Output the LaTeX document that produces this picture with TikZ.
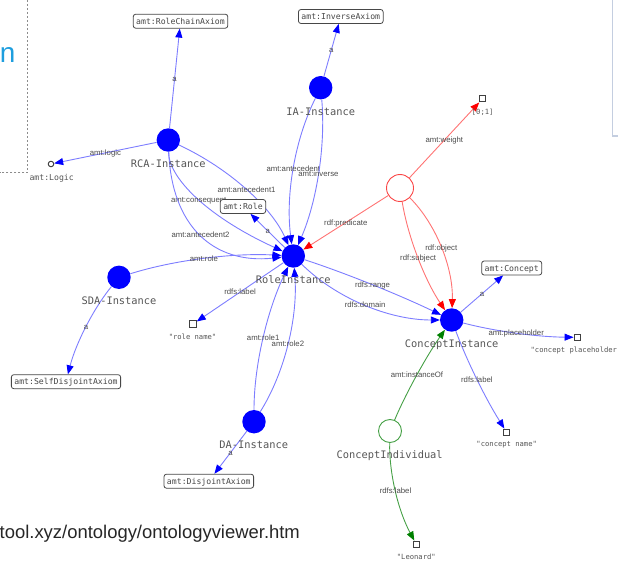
\documentclass[tikz,border=0pt]{standalone}
\usepackage{fontspec}
\setmainfont{Liberation Sans}
\newfontfamily\graphmono{DejaVu Sans Mono}
\usetikzlibrary{arrows.meta}
\pgfdeclarelayer{links}
\pgfsetlayers{links,main}

\definecolor{instblue}{RGB}{0,0,255}
\definecolor{linkblue}{RGB}{125,125,255}
\definecolor{linkred}{RGB}{255,115,115}
\definecolor{tipred}{RGB}{255,0,0}
\definecolor{stmtred}{RGB}{250,70,70}
\definecolor{linkgreen}{RGB}{70,160,70}
\definecolor{tipgreen}{RGB}{0,128,0}
\definecolor{txtgray}{RGB}{85,85,85}
\definecolor{elabgray}{RGB}{75,75,75}
\definecolor{slideblue}{RGB}{30,158,222}
\definecolor{panelblue}{RGB}{196,206,224}

\begin{document}
\begin{tikzpicture}[x=1bp,y=-1bp,
  inst/.style={circle, fill=instblue, minimum size=23.4bp, inner sep=0pt},
  stmt/.style={circle, draw=stmtred, line width=0.9bp, fill=white, minimum size=27bp, inner sep=0pt},
  indiv/.style={circle, draw=linkgreen, line width=0.9bp, fill=white, minimum size=23bp, inner sep=0pt},
  cls/.style={draw=black!72, rounded corners=2.5bp, fill=white, line width=0.8bp,
    font=\graphmono\fontsize{8.2}{9}\selectfont, text=black!72,
    inner xsep=3bp, inner ysep=0pt, text height=6bp, text depth=0pt, minimum height=14bp},
  lit/.style={rectangle, draw=black!75, line width=1bp, fill=white, minimum size=6.5bp, inner sep=0pt},
  litc/.style={circle, draw=black!75, line width=1bp, fill=white, minimum size=5.5bp, inner sep=0pt},
  nlab/.style={font=\graphmono\fontsize{10.4}{12}\selectfont, text=txtgray, inner sep=0pt,
    text height=7.6bp, text depth=0pt},
  llab/.style={font=\graphmono\fontsize{7.2}{9}\selectfont, text=txtgray, inner sep=0pt,
    text height=5.2bp, text depth=0pt},
  clab/.style={font=\graphmono\fontsize{8.2}{9}\selectfont, text=txtgray, inner sep=0pt,
    text height=6bp, text depth=0pt},
  elab/.style={font=\fontsize{7.8}{9}\selectfont, text=elabgray, inner sep=0pt,
    text height=5.6bp, text depth=0pt},
  blink/.style={draw=linkblue, line width=0.9bp, -{Triangle[length=9bp,width=7bp,color=instblue]}},
  rlink/.style={draw=linkred, line width=0.9bp, -{Triangle[length=9bp,width=7bp,color=tipred]}},
  glink/.style={draw=linkgreen, line width=0.9bp, -{Triangle[length=9bp,width=7bp,color=tipgreen]}}
]
\useasboundingbox (0,0) rectangle (618,561);
\clip (0,0) rectangle (618,561);

% slide decorations around the graph
\draw[black!45, line width=0.7bp, dash pattern=on 2bp off 2bp] (27.7,0) -- (27.7,172.7) -- (0,172.7);
\node[anchor=base east, inner sep=0pt, text=slideblue, font=\fontsize{28}{30}\selectfont] (slidetitle) at (15.5,62.7) {on};
\node[anchor=base west, inner sep=0pt, text=black!85, font=\fontsize{18.5}{20}\selectfont] (slideurl) at (-0.5,538.3) {tool.xyz/ontology/ontologyviewer.htm};
\draw[panelblue, line width=1.5bp] (612.7,0) -- (612.7,136) -- (618,136);

% instance nodes
\node[inst] (rca) at (168.3,140) {};
\node[inst] (ia) at (320.7,87.7) {};
\node[inst] (ri) at (293.3,256) {};
\node[inst] (sda) at (119,277.3) {};
\node[inst] (da) at (254,421.7) {};
\node[inst] (ci) at (451.7,320) {};
\node[stmt] (st) at (400,188) {};
\node[indiv] (cind) at (390,431) {};

\node[nlab] (rcaL) at (168.3,163.3) {RCA-Instance};
\node[nlab] (iaL) at (320.7,111.7) {IA-Instance};
\node[nlab] (riL) at (293.3,279.5) {RoleInstance};
\node[nlab] (sdaL) at (119,301) {SDA-Instance};
\node[nlab] (daL) at (253.7,445) {DA-Instance};
\node[nlab] (ciL) at (451.7,343.3) {ConceptInstance};
\node[nlab] (cindL) at (389.7,455) {ConceptIndividual};

% class boxes
\node[cls] (cRCA) at (180.5,21.2) {amt:RoleChainAxiom};
\node[cls] (cIA) at (340.8,16.5) {amt:InverseAxiom};
\node[cls] (cRole) at (243,206.5) {amt:Role};
\node[cls] (cSDA) at (66,381.7) {amt:SelfDisjointAxiom};
\node[cls] (cDA) at (208.8,481.2) {amt:DisjointAxiom};
\node[cls] (cConcept) at (511.7,268) {amt:Concept};

% literal values
\node[litc] (lLogic) at (51,164) {};
\node[lit] (lw) at (482.7,98.7) {};
\node[lit] (lrole) at (193,324) {};
\node[lit] (lph) at (577.3,337.3) {};
\node[lit] (lcn) at (506.7,432.3) {};
\node[lit] (lleo) at (416.3,544.3) {};

\node[clab] (lLogicL) at (51.7,177.3) {amt:Logic};
\node[llab] (lwL) at (482.7,111.7) {[0;1]};
\node[llab] (lroleL) at (192.5,336.7) {"role name"};
\node[llab] (lphL) at (576,350) {"concept placeholder"};
\node[llab] (lcnL) at (506.7,444.3) {"concept name"};
\node[llab] (lleoL) at (416.3,556.7) {"Leonard"};

% links
\begin{pgfonlayer}{links}
\draw[blink] (rca) -- node[elab] {a} (cRCA);
\draw[blink] (rca) -- node[elab] {amt:logic} (lLogic);
\draw[blink] (ia) -- node[elab] {a} (cIA);
\draw[blink] (ia) .. controls (294.5,140) and (285.4,196.1) .. (ri) node[elab, midway] {amt:antecedent};
\draw[blink] (ia) .. controls (325.8,145.7) and (316.7,201.8) .. (ri) node[elab, midway] {amt:inverse};
\draw[blink] (rca) .. controls (230,168.9) and (271.6,207.6) .. (ri) node[elab, midway] {amt:antecedent1};
\draw[blink] (rca) .. controls (168.9,179.6) and (210.6,218.3) .. (ri) node[elab, midway] {amt:consequent};
\draw[blink] (rca) .. controls (171.6,225.7) and (213.2,264.4) .. (ri) node[elab, midway] {amt:antecedent2};
\draw[blink] (sda) .. controls (174.2,260) and (232.3,252.9) .. (ri) node[elab, midway] {amt:role};
\draw[blink] (sda) .. controls (93.6,308.4) and (75.9,343.2) .. (cSDA) node[elab, midway] {a};
\draw[blink] (da) .. controls (254,365.7) and (267.1,310.5) .. (ri) node[elab, midway] {amt:role1};
\draw[blink] (da) .. controls (284.9,372.4) and (298,317.2) .. (ri) node[elab, midway] {amt:role2};
\draw[blink] (da) -- node[elab] {a} (cDA);
\draw[blink] (ri) -- node[elab] {a} (cRole);
\draw[blink] (ri) -- node[elab] {rdfs:label} (lrole);
\draw[blink] (ri) .. controls (346.1,273.3) and (398.9,294.7) .. (ci) node[elab, midway] {rdfs:range};
\draw[blink] (ri) .. controls (336.8,298.7) and (389.6,320) .. (ci) node[elab, midway] {rdfs:domain};
\draw[blink] (ci) -- node[elab] {a} (cConcept);
\draw[blink] (ci) .. controls (494.6,331.2) and (536.5,336.9) .. (lph) node[elab, midway] {amt:placeholder};
\draw[blink] (ci) .. controls (466.7,360.3) and (485,397.7) .. (lcn) node[elab, midway] {rdfs:label};
\draw[rlink] (st) -- node[elab] {amt:weight} (lw);
\draw[rlink] (st) -- node[elab] {rdf:predicate} (ri);
\draw[rlink] (st) .. controls (436.1,224) and (453.3,268) .. (ci) node[elab, midway] {rdf:object};
\draw[rlink] (st) .. controls (407.7,236.4) and (424.9,280.4) .. (ci) node[elab, midway] {rdf:subject};
\draw[glink] (cind) .. controls (405.8,393.3) and (426.4,356.3) .. (ci) node[elab, midway] {amt:instanceOf};
\draw[glink] (cind) .. controls (389,471.9) and (397.7,509.7) .. (lleo) node[elab, midway] {rdfs:label};
\end{pgfonlayer}
\end{tikzpicture}
\end{document}
